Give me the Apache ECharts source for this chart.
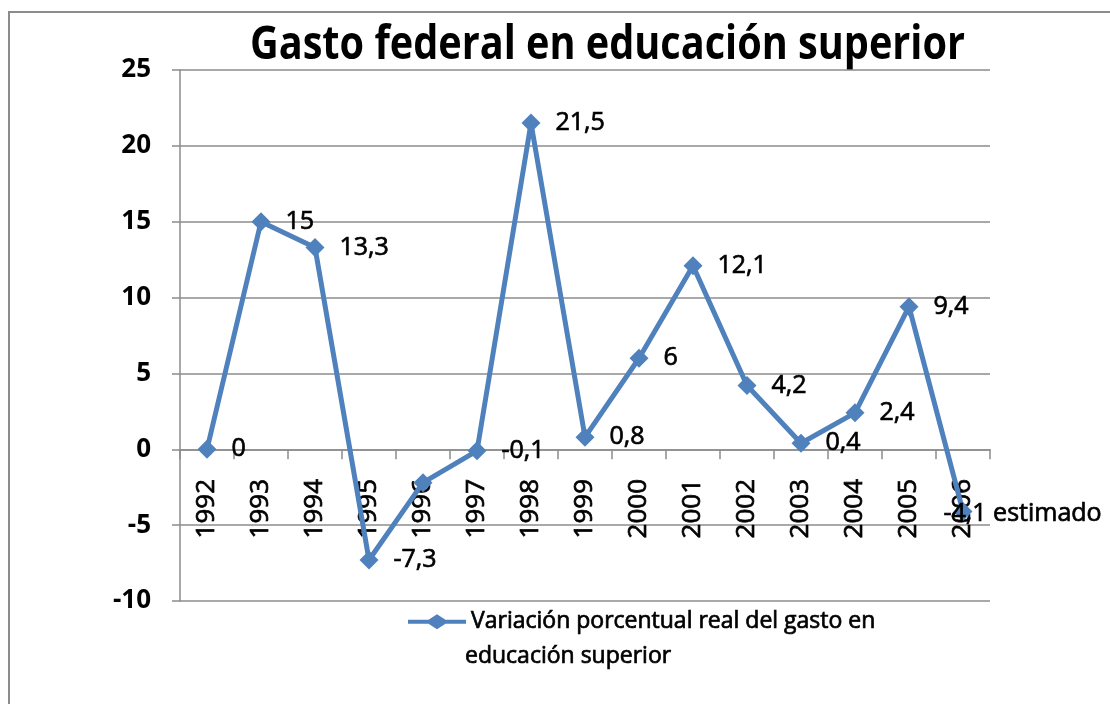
<!DOCTYPE html>
<html>
<head>
<meta charset="utf-8">
<script src="https://cdn.jsdelivr.net/npm/echarts@6/dist/echarts.min.js"></script>
<style>
  html, body { margin: 0; padding: 0; background: #fff; }
  #chart { width: 1110px; height: 704px; }
</style>
</head>
<body>
<div id="chart"></div>
<script>
const years = ["1992", "1993", "1994", "1995", "1996", "1997", "1998", "1999",
  "2000", "2001", "2002", "2003", "2004", "2005", "2006"];
const variation = [0, 15, 13.3, -7.3, -2.2, -0.1, 21.5, 0.8, 6, 12.1, 4.2, 0.4, 2.4, 9.4, -4.1];
// 1996 has no label in the original; 2006 is marked as an estimate
const hiddenLabels = ["1996"];
const estimatedYear = "2006";
const seriesName = "Variación porcentual real del gasto en educación superior";
const titleText = "Gasto federal en educación superior";

const chart = echarts.init(document.getElementById("chart"));

const fmt = (v) => String(v).replace(".", ",");

// the original title is set in a condensed face, squeeze Open Sans to the same width
const titleFont = "bold 46px 'Open Sans'";
const ctx = document.createElement("canvas").getContext("2d");
ctx.font = titleFont;
const titleScale = 715 / ctx.measureText(titleText).width;

// thin outline in the text colour, to get closer to the heavier original rendering
const heavy = { textBorderColor: "#000", textBorderWidth: 0.7 };

const points = variation.map((v, i) => {
  const item = { value: v };
  if (hiddenLabels.includes(years[i])) {
    item.label = { show: false };
  }
  if (years[i] === estimatedYear) {
    item.label = { formatter: fmt(v) + " estimado", offset: [-44, 2] };
  }
  return item;
});

const option = {
  animation: false,
  textStyle: { fontFamily: "Open Sans", color: "#000" },
  graphic: [
    {
      type: "rect",
      shape: { x: 9, y: 12, width: 1200, height: 800 },
      style: { fill: "none", stroke: "#8c8c8c", lineWidth: 2 },
      silent: true
    },
    {
      type: "text",
      x: 250,
      y: 46,
      scaleX: titleScale,
      style: {
        text: titleText,
        font: titleFont,
        fill: "#000",
        verticalAlign: "middle"
      },
      silent: true
    },
    {
      type: "text",
      x: 465,
      y: 656,
      style: {
        text: "educación superior",
        fontFamily: "Open Sans",
        fontSize: 23,
        fill: "#000",
        stroke: "#000",
        lineWidth: 0.7,
        verticalAlign: "middle"
      },
      silent: true
    }
  ],
  grid: { left: 180, right: 120, top: 70, bottom: 103 },
  legend: {
    left: 403,
    top: 605,
    itemWidth: 58,
    itemHeight: 15,
    itemGap: 4,
    icon: "path://M0,5.5 L20.5,5.5 L29,0 L37.5,5.5 L58,5.5 L58,9.5 L37.5,9.5 L29,15 L20.5,9.5 L0,9.5 Z",
    formatter: () => "Variación porcentual real del gasto en",
    textStyle: Object.assign({ fontSize: 23, color: "#000" }, heavy),
    data: [seriesName]
  },
  xAxis: {
    type: "category",
    data: years,
    axisLine: { onZero: true, lineStyle: { color: "#8c8c8c", width: 1.5 } },
    axisTick: { show: true, length: 10, lineStyle: { color: "#8c8c8c", width: 1.5 } },
    axisLabel: Object.assign({ rotate: 90, margin: -122, fontSize: 26, color: "#000" }, heavy)
  },
  yAxis: {
    type: "value",
    min: -10,
    max: 25,
    interval: 5,
    axisLine: { show: true, lineStyle: { color: "#8c8c8c", width: 1.5 } },
    axisTick: { show: true, length: 8, lineStyle: { color: "#8c8c8c", width: 1.5 } },
    axisLabel: { fontSize: 26, fontWeight: "bold", margin: 29, color: "#000" },
    splitLine: { lineStyle: { color: "#8c8c8c", width: 1.5 } }
  },
  series: [
    {
      name: seriesName,
      type: "line",
      data: points,
      symbol: "diamond",
      symbolSize: 19,
      itemStyle: { color: "#4f81bd" },
      lineStyle: { color: "#4f81bd", width: 5 },
      label: Object.assign({
        show: true,
        position: "right",
        distance: 15,
        fontSize: 25,
        color: "#000",
        formatter: (p) => fmt(p.value)
      }, heavy)
    }
  ]
};

option && chart.setOption(option);
</script>
</body>
</html>
